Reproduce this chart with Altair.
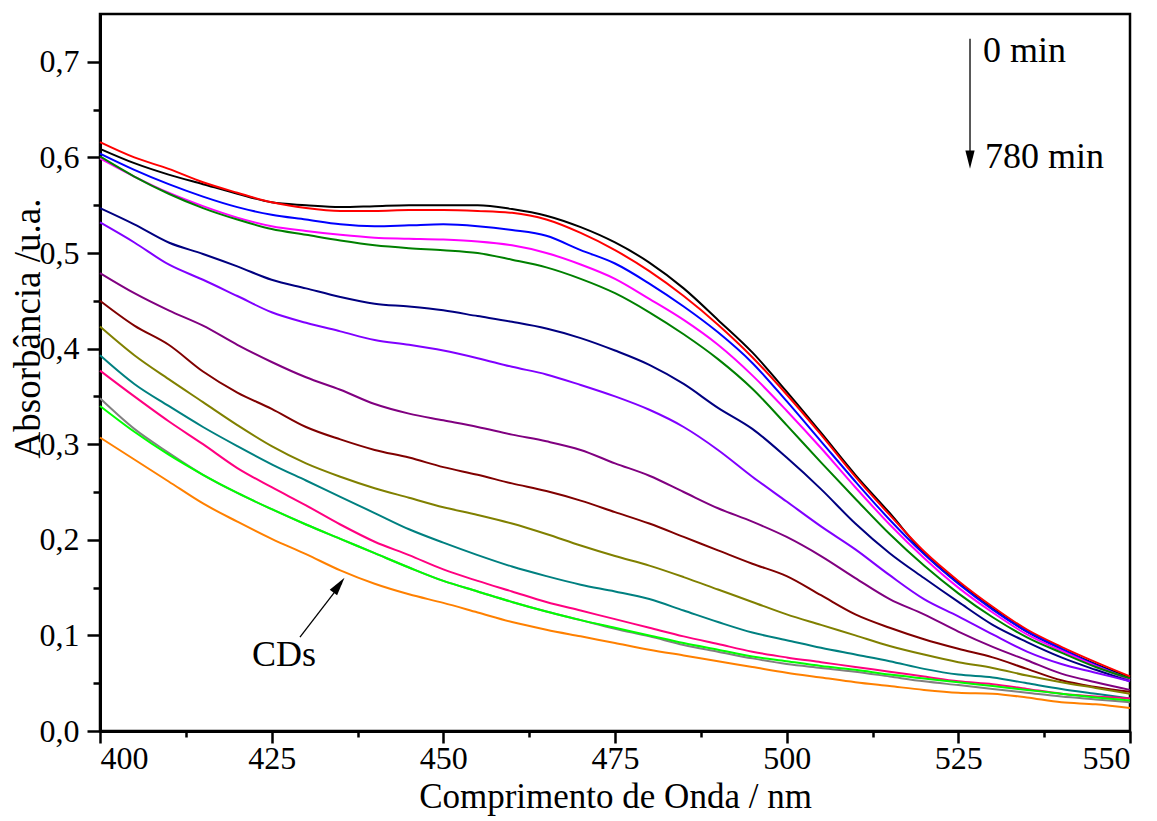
import altair as alt
import pandas as pd

# ---------------- data ----------------
wavelength = list(range(400, 551, 5))

curve_black = [.609, .594, .582, .572, .562, .553, .550, .548, .549, .550, .550, .550, .546, .539, .527, .511,
               .490, .463, .430, .396, .355, .312, .268, .228, .186, .155, .128, .104, .086, .070, .056]
curve_red = [.616, .600, .588, .574, .563, .553, .547, .544, .544, .545, .545, .544, .542, .535, .521, .503,
             .481, .455, .425, .391, .352, .310, .266, .226, .188, .157, .130, .106, .088, .072, .057]
curve_blue = [.604, .587, .572, .559, .548, .540, .535, .530, .528, .529, .530, .528, .524, .518, .503, .489,
              .468, .444, .417, .385, .345, .303, .261, .221, .185, .154, .127, .104, .086, .069, .054]
curve_magenta = [.599, .580, .563, .549, .537, .528, .523, .519, .516, .515, .514, .512, .508, .500, .488, .473,
                 .452, .430, .404, .372, .335, .296, .255, .216, .181, .150, .124, .101, .084, .068, .054]
curve_green = [.601, .580, .562, .547, .535, .525, .519, .513, .508, .505, .503, .500, .493, .485, .473, .458,
               .438, .415, .389, .358, .320, .281, .243, .206, .173, .144, .119, .098, .082, .067, .055]
curve_navy = [.547, .530, .511, .499, .486, .472, .463, .454, .447, .444, .440, .434, .428, .421, .411, .398,
              .383, .363, .338, .316, .286, .253, .217, .186, .160, .135, .111, .093, .077, .064, .052]
curve_violet = [.532, .511, .488, .472, .455, .438, .427, .418, .409, .404, .398, .390, .381, .373, .362, .350,
                .336, .318, .294, .266, .240, .214, .190, .163, .138, .120, .101, .083, .070, .061, .052]
curve_purple = [.479, .458, .440, .424, .404, .386, .370, .357, .342, .332, .325, .318, .310, .303, .294, .280,
                .267, .250, .233, .219, .203, .183, .160, .138, .122, .104, .088, .074, .060, .051, .043]
curve_maroon = [.450, .424, .404, .376, .354, .337, .318, .305, .294, .286, .276, .268, .259, .251, .241, .229,
                .217, .203, .189, .175, .162, .142, .122, .108, .096, .086, .077, .065, .053, .046, .041]
curve_olive = [.423, .393, .368, .344, .320, .298, .280, .266, .254, .244, .234, .226, .217, .206, .194, .183,
               .173, .161, .148, .135, .122, .111, .100, .089, .080, .072, .066, .058, .051, .045, .039]
curve_teal = [.393, .363, .340, .318, .298, .279, .262, .245, .228, .211, .197, .184, .172, .162, .153, .146,
              .138, .126, .114, .103, .095, .087, .080, .073, .065, .059, .056, .050, .044, .039, .034]
curve_pink = [.377, .350, .324, .300, .275, .255, .236, .216, .198, .184, .169, .157, .146, .135, .126, .117,
              .108, .099, .091, .083, .077, .072, .067, .062, .057, .052, .049, .044, .039, .036, .034]
curve_gray = [.348, .316, .291, .268, .249, .232, .216, .201, .186, .171, .157, .146, .135, .125, .116, .107,
              .099, .090, .083, .076, .070, .066, .062, .057, .052, .048, .044, .040, .036, .033, .030]
curve_lime = [.340, .313, .289, .268, .249, .232, .216, .201, .186, .171, .157, .146, .135, .125, .116, .108,
              .100, .092, .085, .078, .073, .068, .064, .059, .055, .051, .047, .043, .039, .035, .032]
curve_cds = [.307, .284, .261, .238, .219, .201, .185, .168, .154, .143, .134, .124, .114, .106, .099, .092,
             .085, .079, .073, .067, .061, .056, .051, .047, .043, .040, .039, .035, .030, .028, .024]

series_names = ["c01", "c02", "c03", "c04", "c05", "c06", "c07", "c08", "c09", "c10",
                "c11", "c12", "c13", "c14", "CDs"]
series_values = [curve_black, curve_red, curve_blue, curve_magenta, curve_green, curve_navy,
                 curve_violet, curve_purple, curve_maroon, curve_olive, curve_teal, curve_pink,
                 curve_gray, curve_lime, curve_cds]
series_colors = ["#000000", "#FF0000", "#0000FF", "#FF00FF", "#008000", "#000080", "#8000FF",
                 "#800080", "#800000", "#808000", "#008080", "#FF0080", "#808080", "#00FF00", "#FF8000"]

x_ticks = [400 + 12.5 * i for i in range(13)]
y_ticks = [round(0.05 * i, 2) for i in range(15)]

# annotations
label_text = ["0 min", "780 min", "CDs"]
label_x = [528.6, 528.9, 426.8]
label_y = [0.711, 0.600, 0.079]
label_align = ["left", "left", "center"]

arrow_x = [526.7, 429.12]
arrow_y = [0.724, 0.0982]
arrow_x2 = [526.7, 435.2]
arrow_y2 = [0.600, 0.155]

head_x = [526.7, 434.8]
head_y = [0.5977, 0.1525]
head_angle = [180, 37]

# ---------------- build ----------------
rows = []
for name, vals in zip(series_names, series_values):
    for i, (w, v) in enumerate(zip(wavelength, vals)):
        rows.append({"series": name, "wl": w, "abs": v, "idx": i})
df = pd.DataFrame(rows)

FONT = "Liberation Serif, Times New Roman, Times, serif"

xscale = alt.Scale(domain=[400, 550], nice=False, zero=False)
yscale = alt.Scale(domain=[0, 0.75], nice=False, zero=True)

x_axis = alt.Axis(
    values=x_ticks,
    labelExpr="datum.value % 25 == 0 ? format(datum.value, 'd') : ''",
    tickSize={"condition": {"test": "datum.value % 25 == 0", "value": 12}, "value": 6},
    title="Comprimento de Onda / nm",
    titlePadding=5,
    labelPadding=0,
    grid=False,
)
y_axis = alt.Axis(
    values=y_ticks,
    labelExpr="abs(datum.value*10 - round(datum.value*10)) < 0.001 ? replace(format(datum.value, '.1f'), '.', ',') : ''",
    tickSize={"condition": {"test": "abs(datum.value*10 - round(datum.value*10)) < 0.001", "value": 13}, "value": 7},
    title="Absorbância /u.a.",
    titleX=-53,
    titleY=314,
    titleFontSize=37,
    labelPadding=8,
    grid=False,
)

lines = alt.Chart(df).mark_line(strokeWidth=2, interpolate="monotone").encode(
    x=alt.X("wl:Q", scale=xscale, axis=x_axis),
    y=alt.Y("abs:Q", scale=yscale, axis=y_axis),
    color=alt.Color("series:N", scale=alt.Scale(domain=series_names, range=series_colors), legend=None),
    order="idx:Q",
)

ann_df = pd.DataFrame({"text": label_text, "x": label_x, "y": label_y, "align": label_align})
texts_left = alt.Chart(ann_df[ann_df["align"] == "left"]).mark_text(
    font=FONT, fontSize=36, align="left", baseline="middle", color="black"
).encode(x=alt.X("x:Q", scale=xscale), y=alt.Y("y:Q", scale=yscale), text="text:N")
texts_center = alt.Chart(ann_df[ann_df["align"] == "center"]).mark_text(
    font=FONT, fontSize=36, align="center", baseline="middle", color="black"
).encode(x=alt.X("x:Q", scale=xscale), y=alt.Y("y:Q", scale=yscale), text="text:N")

arr_df = pd.DataFrame({"x": arrow_x, "y": arrow_y, "x2": arrow_x2, "y2": arrow_y2})
arrows = alt.Chart(arr_df).mark_rule(color="black", strokeWidth=1.3).encode(
    x=alt.X("x:Q", scale=xscale), y=alt.Y("y:Q", scale=yscale), x2="x2:Q", y2="y2:Q"
)

head_df = pd.DataFrame({"x": head_x, "y": head_y, "angle": head_angle})
heads = alt.Chart(head_df).mark_point(
    shape="M 0 -1 L 0.5 1 L -0.5 1 Z", filled=True, color="black", opacity=1, size=340
).encode(
    x=alt.X("x:Q", scale=xscale), y=alt.Y("y:Q", scale=yscale),
    angle=alt.Angle("angle:Q", scale=None),
)

chart = alt.layer(lines, arrows, heads, texts_left, texts_center).properties(
    width=1030,
    height=717,
    autosize=alt.AutoSizeParams(type="none"),
    padding={"left": 100, "top": 14, "right": 27, "bottom": 90},
    background="white",
).configure_view(
    stroke="black", strokeWidth=2.5
).configure_axis(
    domainColor="black", domainWidth=3, tickColor="black", tickWidth=2.5,
    labelFont=FONT, labelFontSize=32, labelColor="black",
    titleFont=FONT, titleFontSize=35, titleFontWeight="normal", titleColor="black",
)

chart.save("out.html", embed_options={"renderer": "svg", "actions": False})
